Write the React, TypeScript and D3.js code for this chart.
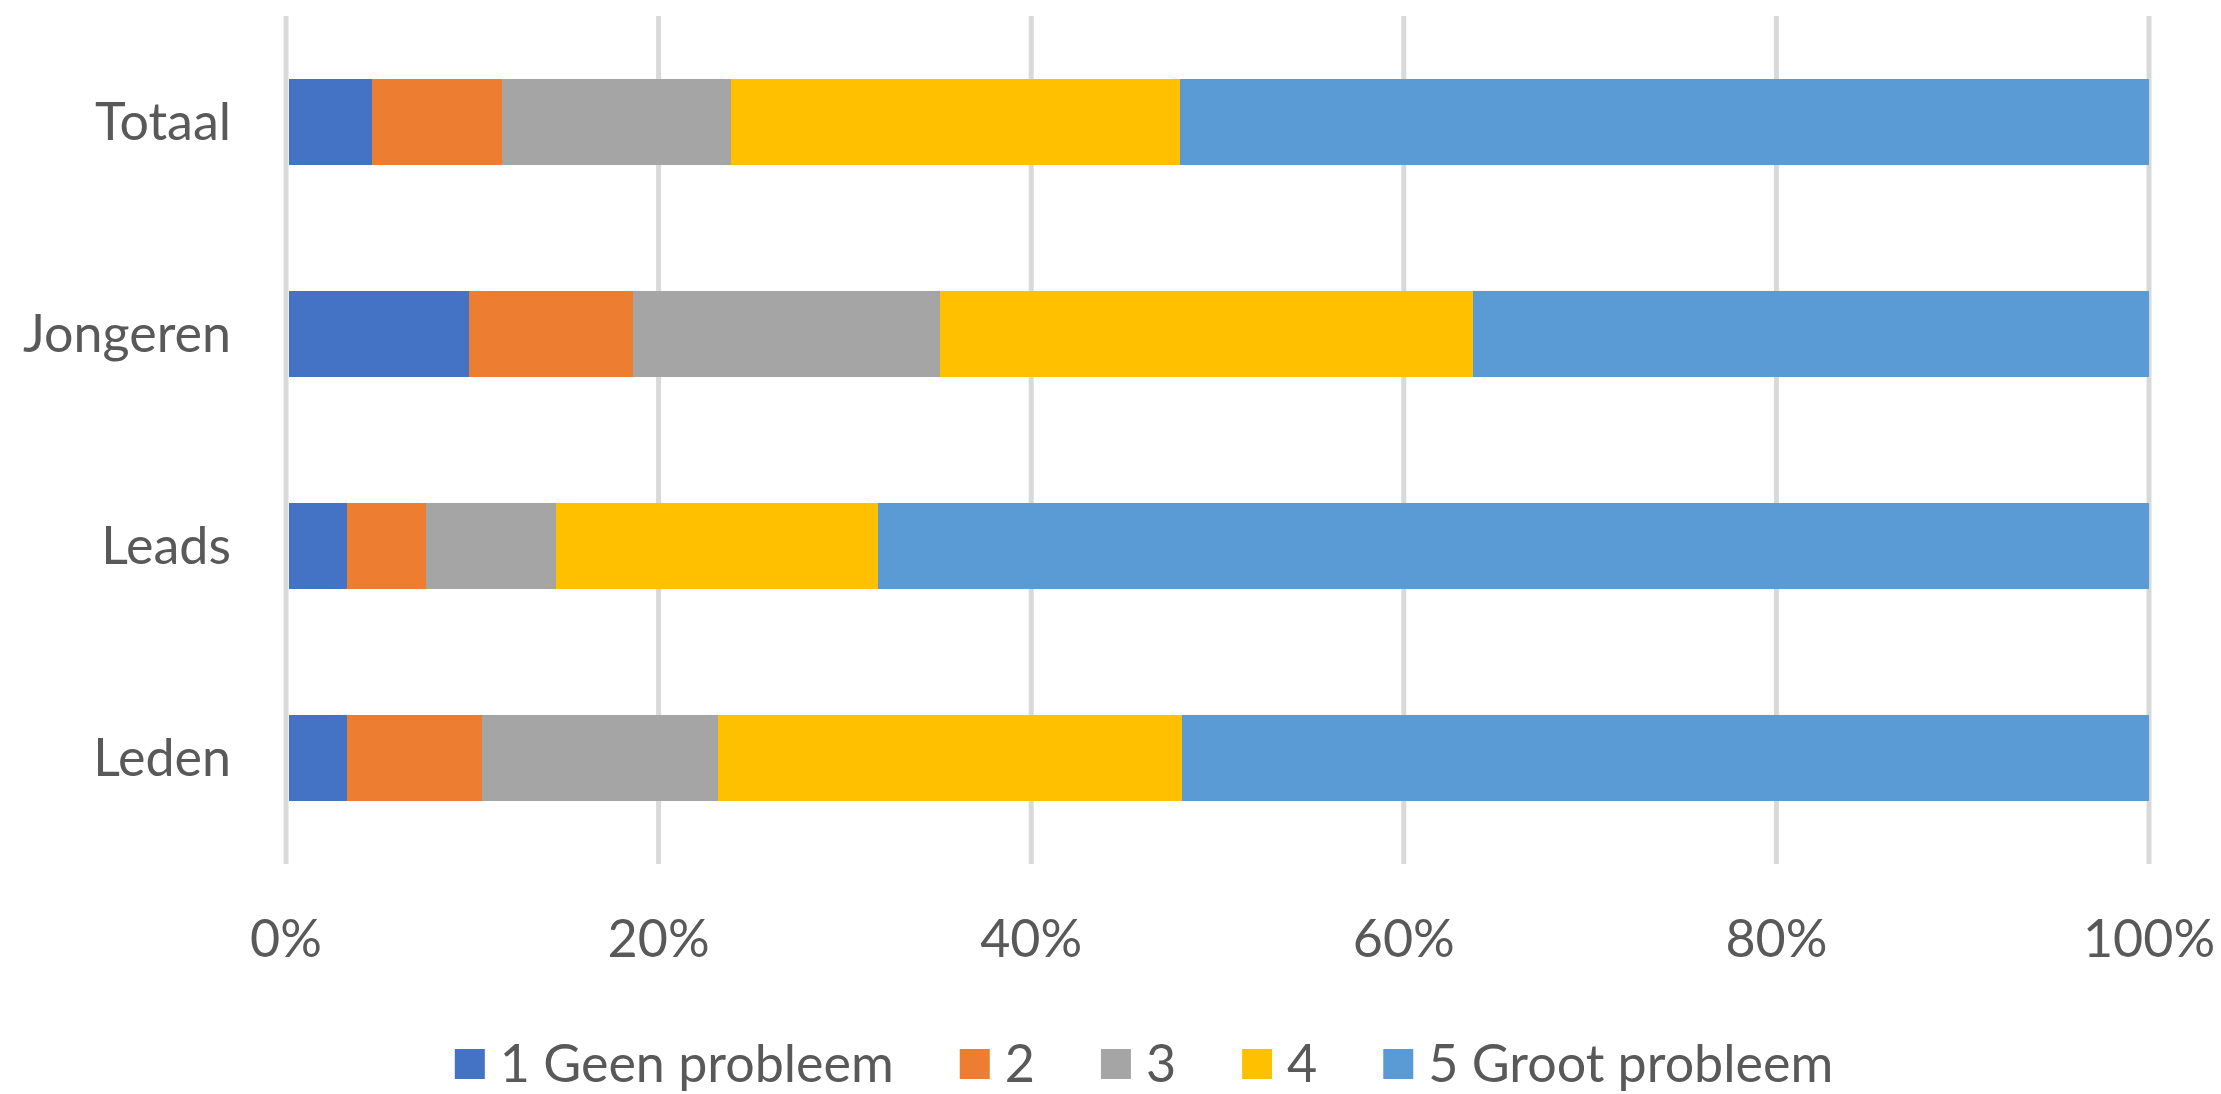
import * as d3 from "d3"
import { useEffect, useRef } from "react"

const categories = ["Totaal", "Jongeren", "Leads", "Leden"]
const seriesNames = ["1 Geen probleem", "2", "3", "4", "5 Groot probleem"]
const seriesColors = ["#4472C4", "#ED7D31", "#A5A5A5", "#FFC000", "#5B9BD5"]

// percentages per category, in series order
const totaal = [4.6, 7.0, 12.3, 24.1, 52.0]
const jongeren = [9.8, 8.8, 16.5, 28.6, 36.3]
const leads = [3.3, 4.2, 7.0, 17.3, 68.2]
const leden = [3.3, 7.2, 12.7, 24.9, 51.9]
const values = [totaal, jongeren, leads, leden]

const xTicks = [0, 0.2, 0.4, 0.6, 0.8, 1]

const W = 2221
const H = 1094
const FONT = "Lato, 'Open Sans', sans-serif"
const TEXT = "#595959"

export default function App() {
  const ref = useRef<SVGSVGElement>(null)

  useEffect(() => {
    if (!ref.current) return
    const svg = d3.select(ref.current)
    svg.selectAll("*").remove()

    const x = d3.scaleLinear().domain([0, 1]).range([286, 2149])
    const y = d3
      .scaleBand()
      .domain(categories)
      .range([16, 864])
      .paddingInner(0.594)
      .paddingOuter(0.297)

    // gridlines
    svg
      .append("g")
      .selectAll("line")
      .data(xTicks)
      .enter()
      .append("line")
      .attr("x1", (d) => x(d))
      .attr("x2", (d) => x(d))
      .attr("y1", 16)
      .attr("y2", 864)
      .attr("stroke", "#D9D9D9")
      .attr("stroke-width", 5)

    // stacked bars
    const rows = categories.map((c, i) => {
      const total = d3.sum(values[i])
      let acc = 0
      return values[i].map((v, j) => {
        const x0 = acc / total
        acc += v
        return { cat: c, j, x0, x1: acc / total }
      })
    })

    svg
      .append("g")
      .selectAll("rect")
      .data(rows.flat())
      .enter()
      .append("rect")
      .attr("x", (d) => x(d.x0) + (d.j === 0 ? 2.5 : 0))
      .attr("width", (d) => x(d.x1) - x(d.x0) - (d.j === 0 ? 2.5 : 0))
      .attr("y", (d) => y(d.cat)!)
      .attr("height", y.bandwidth())
      .attr("fill", (d) => seriesColors[d.j])
      .attr("shape-rendering", "crispEdges")

    // category labels
    svg
      .append("g")
      .selectAll("text")
      .data(categories)
      .enter()
      .append("text")
      .attr("x", 231)
      .attr("y", (d) => y(d)! + y.bandwidth() / 2 + 18)
      .attr("text-anchor", "end")
      .attr("font-family", FONT)
      .attr("font-size", 52)
      .attr("fill", TEXT)
      .text((d) => d)

    // x tick labels
    svg
      .append("g")
      .selectAll("text")
      .data(xTicks)
      .enter()
      .append("text")
      .attr("x", (d) => x(d))
      .attr("y", 957)
      .attr("text-anchor", "middle")
      .attr("font-family", FONT)
      .attr("font-size", 52)
      .attr("fill", TEXT)
      .text((d) => d3.format(".0%")(d))

    // legend
    const legend = svg.append("g")
    const items = legend
      .selectAll("g")
      .data(seriesNames)
      .enter()
      .append("g")
    items
      .append("rect")
      .attr("width", 30)
      .attr("height", 30)
      .attr("y", 1049)
      .attr("fill", (_, i) => seriesColors[i])
    items
      .append("text")
      .attr("x", 45)
      .attr("y", 1082)
      .attr("font-family", FONT)
      .attr("font-size", 52)
      .attr("fill", TEXT)
      .text((d) => d)

    const widths: number[] = []
    items.each(function () {
      const t = d3.select(this).select("text").node() as SVGTextElement
      widths.push(45 + t.getComputedTextLength())
    })
    const gap = 66
    const total = d3.sum(widths) + gap * (widths.length - 1)
    let cx = 1144 - total / 2
    items.attr("transform", (_, i) => {
      const tx = cx
      cx += widths[i] + gap
      return `translate(${tx},0)`
    })
  }, [])

  return (
    <svg
      ref={ref}
      width={W}
      height={H}
      style={{ position: "absolute", left: 0, top: 0, background: "#fff" }}
    />
  )
}
